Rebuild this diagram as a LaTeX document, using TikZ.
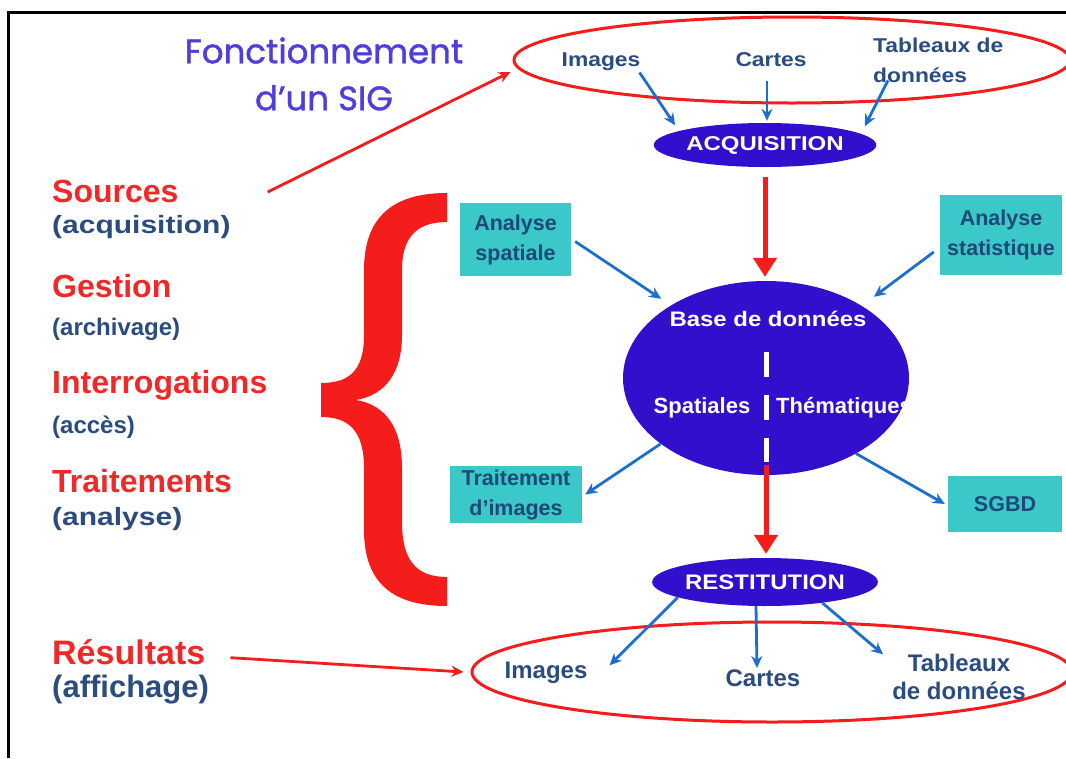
\documentclass[tikz,border=0pt]{standalone}
\usepackage{fontspec}
\setmainfont{Liberation Sans}
\newfontfamily\titlefont[FakeBold=1.2]{Poppins}
\newfontfamily\widefont[FakeStretch=1.2]{Liberation Sans}
\newfontfamily\semiwide[FakeStretch=1.14]{Liberation Sans}
\usetikzlibrary{shapes.geometric,arrows.meta}

\definecolor{sigred}{RGB}{245,28,28}
\definecolor{labred}{RGB}{240,40,40}
\definecolor{navytxt}{RGB}{42,76,126}
\definecolor{boxtext}{RGB}{30,72,120}
\definecolor{dbviolet}{RGB}{50,15,205}
\definecolor{boxteal}{RGB}{58,200,200}
\definecolor{arrowblue}{RGB}{30,110,205}
\definecolor{titleblue}{RGB}{78,62,222}

\tikzset{
  blob/.style={ellipse, fill=dbviolet, draw=none, inner sep=0pt, text=white},
  ring/.style={ellipse, draw=sigred, line width=3pt, inner sep=0pt},
  tealbox/.style={rectangle, fill=boxteal, inner sep=0pt, align=center,
    text=boxtext, font=\bfseries\fontsize{21.5}{30}\selectfont},
  toptext/.style={text=navytxt, inner sep=0pt, font=\semiwide\bfseries\fontsize{20}{30}\selectfont},
  bottext/.style={text=navytxt, inner sep=0pt, font=\bfseries\fontsize{24}{28}\selectfont},
  headlab/.style={text=labred, inner sep=0pt, anchor=base west, font=\bfseries\fontsize{32}{36}\selectfont},
  sublab/.style={text=navytxt, inner sep=0pt, anchor=base west, font=\bfseries\fontsize{24}{28}\selectfont},
  widelab/.style={text=navytxt, inner sep=0pt, anchor=base west, font=\widefont\bfseries\fontsize{25}{28}\selectfont},
  bluearrow/.style={draw=arrowblue, line width=2.8pt, -{Stealth[length=12pt,width=11pt]}},
  redarrow/.style={draw=sigred, line width=5pt, -{Triangle[length=19pt,width=23pt]}},
  thinred/.style={draw=sigred, line width=2.8pt, -{Stealth[length=12pt,width=11pt]}},
}

\begin{document}
\begin{tikzpicture}[x=1pt,y=-1pt]
\useasboundingbox (0,0) rectangle (1066,758);
\fill[white] (0,0) rectangle (1066,758);

% frame
\draw[line width=3.5pt] (8.5,758) -- (8.5,12.5) -- (1066,12.5);

% title
\node[text=titleblue, align=center, inner sep=0pt,
      font=\titlefont\fontsize{34}{47}\selectfont] (title) at (324,74)
  {Fonctionnement\\d’un SIG};

% sources ring and acquisition
\node[ring, minimum width=556pt, minimum height=86pt] (te) at (792,60) {};
\node[toptext, anchor=base] (img1) at (601,66) {Images};
\node[toptext, anchor=base] (crt1) at (771,66) {Cartes};
\node[toptext, anchor=base west, align=left] (tab1) at (873,82) {Tableaux de\\données};
\node[blob, minimum width=200pt, minimum height=44pt,
      font=\widefont\bfseries\fontsize{20}{24}\selectfont] (acq) at (765,145) {ACQUISITION};

% database
\node[blob, minimum width=286pt, minimum height=194pt] (db) at (766,378) {};
\node[text=white, inner sep=0pt, anchor=base,
      font=\semiwide\bfseries\fontsize{21}{24}\selectfont] (dbt) at (768,326) {Base de données};
\node[text=white, inner sep=0pt, anchor=base,
      font=\bfseries\fontsize{22}{24}\selectfont] (spa) at (702,413) {Spatiales};
\node[text=white, inner sep=0pt, anchor=base west,
      font=\bfseries\fontsize{22}{24}\selectfont] (the) at (776,413) {Thématiques};
\draw[white, line width=5pt] ([yshift=26pt]db.center) -- ([yshift=1pt]db.center);
\draw[white, line width=5pt] ([yshift=-17pt]db.center) -- ([yshift=-42pt]db.center);
\draw[white, line width=5pt] ([yshift=-60pt]db.center) -- ([yshift=-84pt]db.center);

% restitution and results ring
\node[blob, minimum width=196pt, minimum height=48pt,
      font=\semiwide\bfseries\fontsize{21}{24}\selectfont] (rest) at (765,582) {RESTITUTION};
\node[ring, minimum width=600pt, minimum height=100pt] (be) at (772,672) {};
\node[bottext, anchor=base] (bimg) at (546,678) {Images};
\node[bottext, anchor=base] (bcrt) at (763,686) {Cartes};
\node[bottext, anchor=base, align=center] (btab) at (959,699) {Tableaux\\de données};

% treatment boxes
\node[tealbox, minimum width=111pt, minimum height=73pt] (asp) at (515.5,239.5) {Analyse\\spatiale};
\node[tealbox, minimum width=122pt, minimum height=80pt] (ast) at (1001,235) {Analyse\\statistique};
\node[tealbox, minimum width=132pt, minimum height=57pt] (trt) at (516,494.5) {Traitement\\d’images};
\node[tealbox, minimum width=114pt, minimum height=56pt] (sgbd) at (1005,504) {SGBD};

% left column labels
\node[headlab] (src) at (52,202) {Sources};
\node[widelab] (srcs) at (52,233) {(acquisition)};
\node[headlab] (ges) at (52,297) {Gestion};
\node[sublab] (gess) at (52,335) {(archivage)};
\node[headlab] (itr) at (52,393) {Interrogations};
\node[sublab] (itrs) at (52,433) {(accès)};
\node[headlab] (trm) at (52,492) {Traitements};
\node[widelab] (trms) at (52,525) {(analyse)};
\node[headlab, font=\bfseries\fontsize{34}{36}\selectfont] (res) at (52,664) {Résultats};
\node[sublab, font=\bfseries\fontsize{31}{34}\selectfont] (ress) at (52,697) {(affichage)};

% big brace
\fill[sigred] (447,193) .. controls (395,193) and (364,215) .. (364,270)
  -- (364,335) .. controls (364,372) and (348,383) .. (321,383)
  -- (321,417) .. controls (348,417) and (364,430) .. (364,468)
  -- (364,530) .. controls (364,585) and (395,606) .. (447,606)
  -- (447,577) .. controls (416,577) and (402,560) .. (402,522)
  -- (402,468) .. controls (402,428) and (386,405) .. (356,400)
  .. controls (386,395) and (402,372) .. (402,335)
  -- (402,270) .. controls (402,238) and (416,222) .. (447,222) -- cycle;

% connectors
\draw[thinred] ([xshift=89pt,yshift=-1pt]src.east) -- ([xshift=-2pt,yshift=-12pt]te.west);
\draw[thinred] ([xshift=25pt,yshift=-6pt]res.east) -- ([xshift=-7pt]be.west);

\draw[bluearrow] ([xshift=-1pt,yshift=-2pt]img1.south east) -- ([xshift=-11pt,yshift=4pt]acq.north west);
\draw[bluearrow] ([xshift=-4pt,yshift=-15pt]crt1.south) -- ([xshift=2pt,yshift=2pt]acq.north);
\draw[bluearrow] ([xshift=15pt,yshift=2pt]tab1.south west) -- ([xshift=21pt,yshift=3pt]acq.north east);

\draw[redarrow] ([yshift=-10pt]acq.south) -- ([yshift=4pt]acq.south |- db.north);
\draw[redarrow] ([yshift=10pt]db.south) -- ([yshift=4pt]db.south |- rest.north);

\draw[bluearrow] ([xshift=4pt,yshift=-2pt]asp.east) -- ([xshift=-9pt,yshift=7pt]db.143);
\draw[bluearrow] ([xshift=-6pt,yshift=-17pt]ast.west) -- ([xshift=12pt,yshift=9pt]db.37);
\draw[bluearrow] (db.212) -- ([xshift=3pt]trt.east);
\draw[bluearrow] (db.320) -- ([xshift=-3pt]sgbd.west);

\draw[bluearrow] (rest.190) -- ([xshift=22pt,yshift=-4pt]bimg.north east);
\draw[bluearrow] ([xshift=-9pt]rest.south) -- ([xshift=-6pt,yshift=1pt]bcrt.north);
\draw[bluearrow] (rest.340) -- ([xshift=-9pt,yshift=-1pt]btab.north west);
\end{tikzpicture}
\end{document}
